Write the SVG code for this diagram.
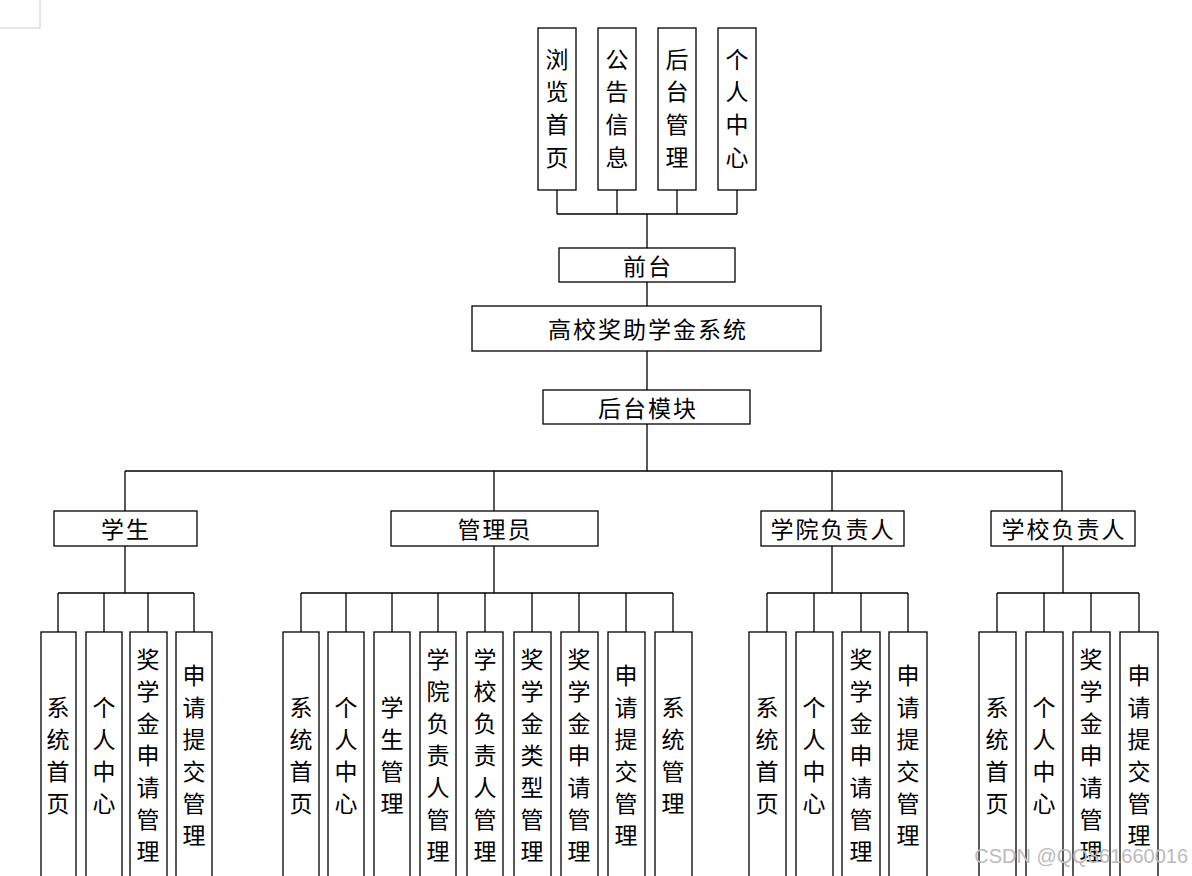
<svg xmlns="http://www.w3.org/2000/svg" width="1192" height="876" viewBox="0 0 1192 876">
<style>
rect{fill:#fff;stroke:#000;stroke-width:1.3}
.c path{fill:none;stroke:#000;stroke-width:1.3}
text{font-family:"Noto Sans CJK SC","Liberation Sans",sans-serif;font-size:23px;fill:#000;text-anchor:middle;dominant-baseline:central}
.h{letter-spacing:2px}
</style>
<rect x="0" y="0" width="1192" height="876" style="stroke:none"/>
<path d="M40 0V28H0" fill="none" stroke="#ccc" stroke-width="1"/>
<g class="c">
<path d="M557 190V214M617 190V214M677 190V214M737 190V214M557 214H737M647 214V248M647 282V306M647 351V390M647 424V471M125 471H1062M125 471V511M494 471V511M832 471V511M1062 471V511"/>
<path d="M125 546V593M58 593H194M58 593V632M104 593V632M148 593V632M194 593V632"/>
<path d="M494 546V593M301 593H673M301 593V632M346 593V632M392 593V632M438 593V632M485 593V632M532 593V632M579 593V632M626 593V632M673 593V632"/>
<path d="M832 546V593M767 593H908M767 593V632M814 593V632M861 593V632M908 593V632"/>
<path d="M1063 546V593M997 593H1139M997 593V632M1044 593V632M1091 593V632M1139 593V632"/>
</g>
<g id="t1"><rect x="538" y="28" width="38" height="162"/><text x="557" y="58">浏</text><text x="557" y="90">览</text><text x="557" y="123">首</text><text x="557" y="156">页</text></g>
<g id="t2"><rect x="598" y="28" width="38" height="162"/><text x="617" y="58">公</text><text x="617" y="90">告</text><text x="617" y="123">信</text><text x="617" y="156">息</text></g>
<g id="t3"><rect x="658" y="28" width="38" height="162"/><text x="677" y="58">后</text><text x="677" y="90">台</text><text x="677" y="123">管</text><text x="677" y="156">理</text></g>
<g id="t4"><rect x="718" y="28" width="38" height="162"/><text x="737" y="58">个</text><text x="737" y="90">人</text><text x="737" y="123">中</text><text x="737" y="156">心</text></g>
<g id="qt"><rect x="559" y="248" width="176" height="34"/><text class="h" x="648" y="265">前台</text></g>
<g id="sys"><rect x="472" y="306" width="349" height="45"/><text class="h" x="648" y="328">高校奖助学金系统</text></g>
<g id="ht"><rect x="543" y="390" width="207" height="34"/><text class="h" x="648" y="407">后台模块</text></g>
<g id="r1"><rect x="54" y="511" width="143" height="35"/><text class="h" x="126" y="528">学生</text></g>
<g id="r2"><rect x="391" y="511" width="207" height="35"/><text class="h" x="495" y="528">管理员</text></g>
<g id="r3"><rect x="761" y="511" width="143" height="35"/><text class="h" x="833" y="528">学院负责人</text></g>
<g id="r4"><rect x="991" y="511" width="144" height="35"/><text class="h" x="1064" y="528">学校负责人</text></g>
<g id="leaves">
<rect x="41" y="632" width="35" height="250"/><text x="58" y="706">系</text><text x="58" y="738">统</text><text x="58" y="770">首</text><text x="58" y="802">页</text>
<rect x="86" y="632" width="36" height="250"/><text x="104" y="706">个</text><text x="104" y="738">人</text><text x="104" y="770">中</text><text x="104" y="802">心</text>
<rect x="130" y="632" width="37" height="250"/><text x="148" y="658">奖</text><text x="148" y="690">学</text><text x="148" y="722">金</text><text x="148" y="754">申</text><text x="148" y="786">请</text><text x="148" y="818">管</text><text x="148" y="850">理</text>
<rect x="176" y="632" width="36" height="250"/><text x="194" y="674">申</text><text x="194" y="706">请</text><text x="194" y="738">提</text><text x="194" y="770">交</text><text x="194" y="802">管</text><text x="194" y="834">理</text>

<rect x="283" y="632" width="36" height="250"/><text x="301" y="706">系</text><text x="301" y="738">统</text><text x="301" y="770">首</text><text x="301" y="802">页</text>
<rect x="328" y="632" width="36" height="250"/><text x="346" y="706">个</text><text x="346" y="738">人</text><text x="346" y="770">中</text><text x="346" y="802">心</text>
<rect x="374" y="632" width="36" height="250"/><text x="392" y="706">学</text><text x="392" y="738">生</text><text x="392" y="770">管</text><text x="392" y="802">理</text>
<rect x="420" y="632" width="36" height="250"/><text x="438" y="658">学</text><text x="438" y="690">院</text><text x="438" y="722">负</text><text x="438" y="754">责</text><text x="438" y="786">人</text><text x="438" y="818">管</text><text x="438" y="850">理</text>
<rect x="467" y="632" width="36" height="250"/><text x="485" y="658">学</text><text x="485" y="690">校</text><text x="485" y="722">负</text><text x="485" y="754">责</text><text x="485" y="786">人</text><text x="485" y="818">管</text><text x="485" y="850">理</text>
<rect x="514" y="632" width="37" height="250"/><text x="532" y="658">奖</text><text x="532" y="690">学</text><text x="532" y="722">金</text><text x="532" y="754">类</text><text x="532" y="786">型</text><text x="532" y="818">管</text><text x="532" y="850">理</text>
<rect x="561" y="632" width="37" height="250"/><text x="579" y="658">奖</text><text x="579" y="690">学</text><text x="579" y="722">金</text><text x="579" y="754">申</text><text x="579" y="786">请</text><text x="579" y="818">管</text><text x="579" y="850">理</text>
<rect x="608" y="632" width="37" height="250"/><text x="626" y="674">申</text><text x="626" y="706">请</text><text x="626" y="738">提</text><text x="626" y="770">交</text><text x="626" y="802">管</text><text x="626" y="834">理</text>
<rect x="655" y="632" width="37" height="250"/><text x="673" y="706">系</text><text x="673" y="738">统</text><text x="673" y="770">管</text><text x="673" y="802">理</text>

<rect x="749" y="632" width="37" height="250"/><text x="767" y="706">系</text><text x="767" y="738">统</text><text x="767" y="770">首</text><text x="767" y="802">页</text>
<rect x="796" y="632" width="37" height="250"/><text x="814" y="706">个</text><text x="814" y="738">人</text><text x="814" y="770">中</text><text x="814" y="802">心</text>
<rect x="842" y="632" width="38" height="250"/><text x="861" y="658">奖</text><text x="861" y="690">学</text><text x="861" y="722">金</text><text x="861" y="754">申</text><text x="861" y="786">请</text><text x="861" y="818">管</text><text x="861" y="850">理</text>
<rect x="889" y="632" width="38" height="250"/><text x="908" y="674">申</text><text x="908" y="706">请</text><text x="908" y="738">提</text><text x="908" y="770">交</text><text x="908" y="802">管</text><text x="908" y="834">理</text>

<rect x="979" y="632" width="37" height="250"/><text x="997" y="706">系</text><text x="997" y="738">统</text><text x="997" y="770">首</text><text x="997" y="802">页</text>
<rect x="1026" y="632" width="37" height="250"/><text x="1044" y="706">个</text><text x="1044" y="738">人</text><text x="1044" y="770">中</text><text x="1044" y="802">心</text>
<rect x="1073" y="632" width="37" height="250"/><text x="1091" y="658">奖</text><text x="1091" y="690">学</text><text x="1091" y="722">金</text><text x="1091" y="754">申</text><text x="1091" y="786">请</text><text x="1091" y="818">管</text><text x="1091" y="850">理</text>
<rect x="1120" y="632" width="38" height="250"/><text x="1139" y="674">申</text><text x="1139" y="706">请</text><text x="1139" y="738">提</text><text x="1139" y="770">交</text><text x="1139" y="802">管</text><text x="1139" y="834">理</text>
</g>
<text x="1188" y="856" style="text-anchor:end;font-size:20px;fill:#bbb;font-family:'Liberation Sans',sans-serif">CSDN @QQ861660016</text>
</svg>
